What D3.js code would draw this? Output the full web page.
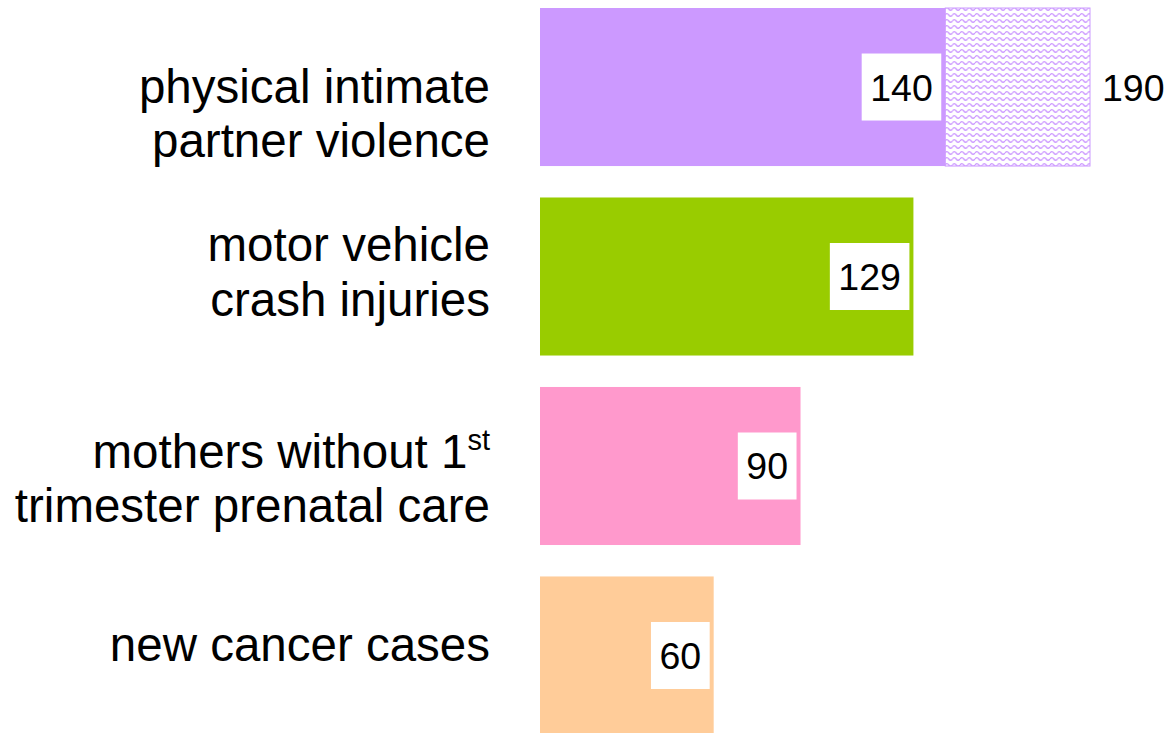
<!DOCTYPE html>
<html>
<head>
<meta charset="utf-8">
<script src="https://cdn.jsdelivr.net/npm/d3@7"></script>
<style>
  html, body { margin: 0; padding: 0; background: #fff; }
  svg { display: block; }
</style>
</head>
<body>
<div id="chart"></div>
<script>
// Chart size
const width = 1167;
const height = 733;

// Data
const categories = ["ipv", "crash", "prenatal", "cancer"];
const labelLines = [
    ["physical intimate", "partner violence"],
    ["motor vehicle", "crash injuries"],
    ["mothers without 1|st", "trimester prenatal care"],
    ["new cancer cases"]
];
const baseValues = [140, 129, 90, 60];
const upperValues = [190, null, null, null];
const colors = ["#cc99ff", "#99cc00", "#ff99cc", "#ffcc99"];

// small hand nudges of the label blocks (the original text boxes are not centred)
const labelNudge = [31, 0, 17, -6];

function main() {
    const svg = d3.select("#chart").append("svg")
        .attr("width", width)
        .attr("height", height);

    const x = d3.scaleLinear()
        .domain([0, 190])
        .range([540, 1090]);

    const y = d3.scaleBand()
        .domain(categories)
        .range([8, 734.5])
        .paddingInner(0.166)
        .paddingOuter(0);

    // Wavy pattern for the upper part of the first bar
    const pattern = svg.append("defs").append("pattern")
        .attr("id", "wave")
        .attr("patternUnits", "userSpaceOnUse")
        .attr("width", 7.5)
        .attr("height", 6);
    pattern.append("rect")
        .attr("width", 7.5)
        .attr("height", 6)
        .attr("fill", "#fff");
    pattern.append("path")
        .attr("d", "M0,3 Q1.875,0.4 3.75,3 T7.5,3")
        .attr("fill", "none")
        .attr("stroke", "#cc99ff")
        .attr("stroke-width", 1.3);

    const rows = categories.map((c, i) => ({
        cat: c, lines: labelLines[i], base: baseValues[i],
        upper: upperValues[i], color: colors[i], nudge: labelNudge[i]
    }));

    // Upper (patterned) segment
    svg.append("g")
        .selectAll("rect")
        .data(rows.filter(d => d.upper != null))
        .join("rect")
        .attr("x", d => x(d.base))
        .attr("y", d => y(d.cat))
        .attr("width", d => x(d.upper) - x(d.base))
        .attr("height", y.bandwidth())
        .attr("fill", "url(#wave)")
        .attr("stroke", d => d.color)
        .attr("stroke-width", 1);

    // Main bars
    svg.append("g")
        .selectAll("rect")
        .data(rows)
        .join("rect")
        .attr("x", x(0))
        .attr("y", d => y(d.cat))
        .attr("width", d => x(d.base) - x(0))
        .attr("height", y.bandwidth())
        .attr("fill", d => d.color);

    // Value labels in white boxes
    const lab = svg.append("g")
        .attr("font-family", "'Liberation Sans', Arial, sans-serif")
        .attr("font-size", 37.5)
        .selectAll("g")
        .data(rows)
        .join("g")
        .attr("transform", d => `translate(${x(d.base) - 4},${y(d.cat) + y.bandwidth() / 2})`);

    lab.append("text")
        .attr("text-anchor", "end")
        .attr("x", -8.5)
        .attr("dy", "0.36em")
        .text(d => d.base)
        .each(function () {
            const b = this.getBBox();
            d3.select(this.parentNode).insert("rect", "text")
                .attr("x", b.x - 8.5)
                .attr("y", -33.5)
                .attr("width", b.width + 17)
                .attr("height", 67)
                .attr("fill", "#fff");
        });

    // Upper value text
    svg.append("g")
        .attr("font-family", "'Liberation Sans', Arial, sans-serif")
        .attr("font-size", 37.5)
        .selectAll("text")
        .data(rows.filter(d => d.upper != null))
        .join("text")
        .attr("x", d => x(d.upper) + 12)
        .attr("y", d => y(d.cat) + y.bandwidth() / 2)
        .attr("dy", "0.36em")
        .text(d => d.upper);

    // Category labels
    const lineGap = 54.5;
    const cat = svg.append("g")
        .attr("font-family", "'Liberation Sans', Arial, sans-serif")
        .attr("font-size", 47.5)
        .attr("fill", "#000");

    rows.forEach(d => {
        const mid = y(d.cat) + y.bandwidth() / 2;
        const n = d.lines.length;
        d.lines.forEach((line, i) => {
            const t = cat.append("text")
                .attr("text-anchor", "end")
                .attr("x", 490)
                .attr("y", mid + (i - (n - 1) / 2) * lineGap + 12 + d.nudge);
            const parts = line.split("|");
            t.append("tspan").text(parts[0]);
            if (parts[1]) {
                t.append("tspan")
                    .attr("font-size", 29)
                    .attr("dy", -18)
                    .text(parts[1]);
            }
        });
    });
}

main();
</script>
</body>
</html>
